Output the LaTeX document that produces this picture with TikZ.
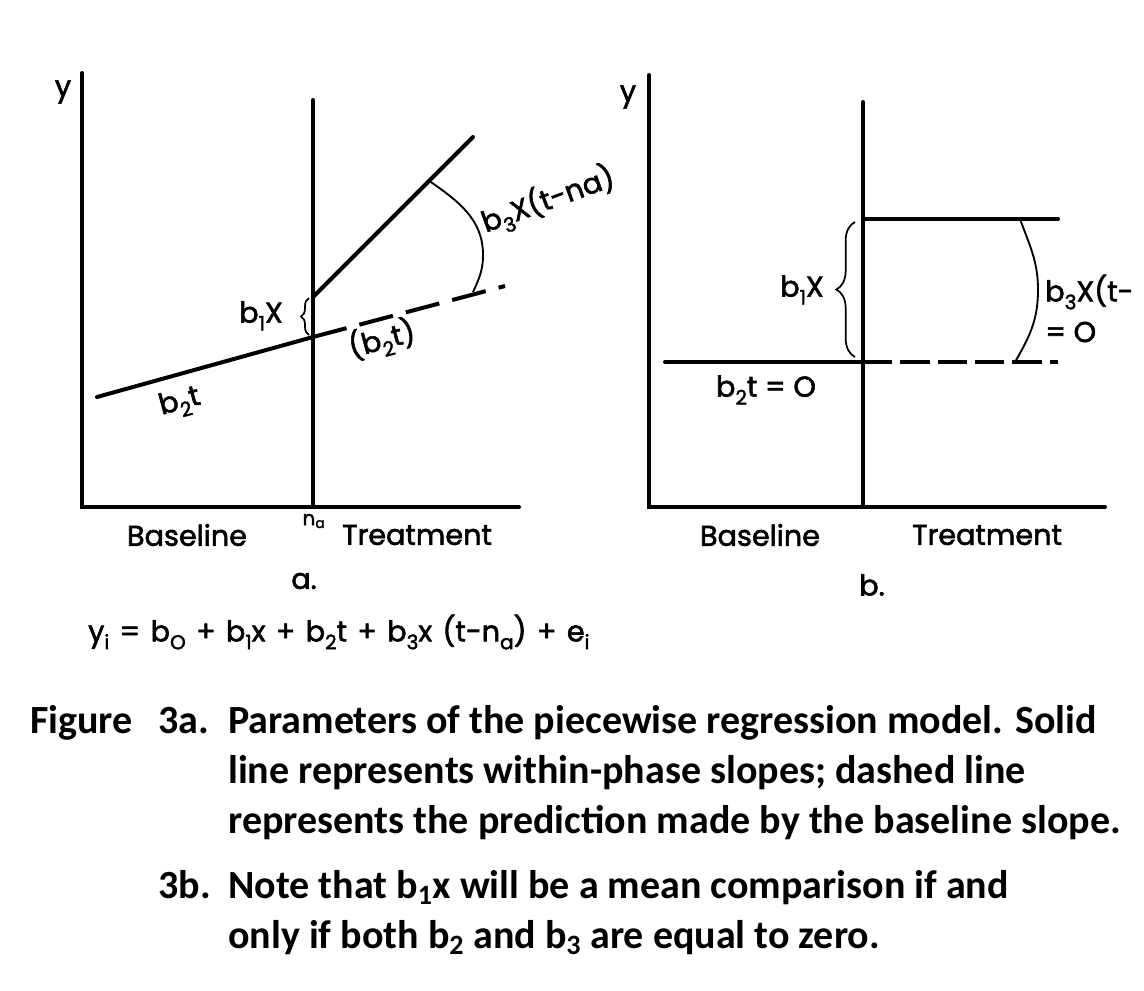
\documentclass[tikz,border=0pt]{standalone}
\usepackage{fontspec}
\newfontfamily\gfont[FakeBold=2]{Poppins}
\newfontfamily\cfont{Carlito}
\usetikzlibrary{decorations.pathreplacing}
\newcommand{\sbx}[1]{\raisebox{-0.5ex}{\fontsize{15}{15}\selectfont #1}}
\newcommand{\wsp}{\hspace{0.36em}}
\begin{document}
\begin{tikzpicture}[x=0.75pt,y=-0.75pt,
  axis/.style={line width=3pt,line cap=round},
  trend/.style={line width=3pt,line cap=round},
  thinarc/.style={line width=1.4pt},
  dasha/.style={line width=3pt,dash pattern=on 26pt off 10pt},
  dashb/.style={line width=3pt,dash pattern=on 22pt off 6pt},
  bracea/.style={decorate,decoration={brace,amplitude=6pt},line width=1.3pt},
  braceb/.style={decorate,decoration={brace,amplitude=14pt},line width=1.3pt},
  gt/.style={font=\gfont\fontsize{21.5}{25}\selectfont,inner sep=0pt},
  gts/.style={font=\gfont\fontsize{15}{17}\selectfont,inner sep=0pt},
  captxt/.style={font=\cfont\bfseries\fontsize{30}{36}\selectfont,inner sep=0pt,anchor=base west}]
\useasboundingbox (0,0) rectangle (1144,990);
% ---------- panel a ----------
\coordinate (ya) at (82,73);
\coordinate (oa) at (82,507);
\coordinate (xa) at (519,507);
\draw[axis] (ya) -- (oa) -- (xa);
\coordinate (natop) at (313,100);
\coordinate (nabot) at (313,507);
\draw[axis] (natop) -- (nabot);
\coordinate (b2s) at (97,397);
\coordinate (b2e) at (313,337);
\coordinate (dashend) at (505,286);
\draw[trend] (b2s) -- (b2e);
\draw[dasha] (b2e) -- (dashend);
\coordinate (ups) at (313,297);
\coordinate (upe) at (473,137);
\draw[trend] (ups) -- (upe);
\coordinate (arcA1) at (428,180);
\coordinate (arcA2) at (483,255);
\coordinate (arcA3) at (473,292);
\draw[thinarc] (arcA1) to[out=-35,in=90] (arcA2) to[out=-90,in=65] (arcA3);
\coordinate (brAb) at (309,335);
\coordinate (brAt) at (309,298);
\draw[bracea] (brAb) -- (brAt);
\node[gt] (yA) at (63,92) {y};
\node[gt] (b1xA) at (261,316) {b\sbx{1}X};
\node[gt,rotate=15] (b2tA) at (180,403) {b\sbx{2}t};
\node[gt,rotate=15] (b2tpA) at (382,340) {(b\sbx{2}t)};
\node[gt,rotate=20] (b3A) at (548,200) {b\sbx{3}X(t-na)};
\node[gt] (baseA) at (187,535) {Baseline};
\node[gts] (naA) at (314,521) {n\textsubscript{a}};
\node[gt] (treatA) at (417,535) {Treatment};
\node[gt] (aA) at (304,581) {a.};
\node[gt,anchor=west] (eq) at (88,632) {y\sbx{i}\wsp=\wsp b\sbx{O}\wsp+\wsp b\sbx{1}x\wsp+\wsp b\sbx{2}t\wsp+\wsp b\sbx{3}x\wsp(t-n\sbx{a})\wsp+\wsp e\sbx{i}};
% ---------- panel b ----------
\coordinate (yb) at (649,75);
\coordinate (ob) at (649,507);
\coordinate (xb) at (1105,507);
\draw[axis] (yb) -- (ob) -- (xb);
\coordinate (nbtop) at (863,102);
\coordinate (nbbot) at (863,507);
\draw[axis] (nbtop) -- (nbbot);
\coordinate (lowL) at (665,362);
\coordinate (lowM) at (863,362);
\coordinate (lowR) at (1058,362);
\draw[trend] (lowL) -- (lowM);
\draw[dashb] (lowM) -- (lowR);
\coordinate (upL) at (863,219);
\coordinate (upR) at (1058,219);
\draw[trend] (upL) -- (upR);
\coordinate (arcB1) at (1020,219);
\coordinate (arcB2) at (1038,290);
\coordinate (arcB3) at (1015,362);
\draw[thinarc] (arcB1) to[out=-70,in=90] (arcB2) to[out=-90,in=60] (arcB3);
\coordinate (brBb) at (855,357);
\coordinate (brBt) at (855,222);
\draw[braceb] (brBb) -- (brBt);
\node[gt] (yB) at (628,97) {y};
\node[gt] (b1xB) at (802,290) {b\sbx{1}X};
\node[gt] (b2tB) at (766,390) {b\sbx{2}t = O};
\node[gt,anchor=west] (b3B) at (1045,292) {b\sbx{3}X(t-};
\node[gt,anchor=west] (eqB) at (1045,332) {= O};
\node[gt] (baseB) at (760,535) {Baseline};
\node[gt] (treatB) at (987,535) {Treatment};
\node[gt] (bB) at (872,585) {b.};
% ---------- caption ----------
\node[captxt] (fig) at (30,733) {Figure};
\node[captxt] (n3a) at (158,733) {3a.};
\node[captxt] (l1) at (228,733) {Parameters of the piecewise regression model. Solid};
\node[captxt] (l2) at (228,783) {line represents within-phase slopes; dashed line};
\node[captxt] (l3) at (228,833) {represents the prediction made by the baseline slope.};
\node[captxt] (n3b) at (158,898) {3b.};
\node[captxt] (l4) at (228,898) {Note that b\textsubscript{1}x will be a mean comparison if and};
\node[captxt] (l5) at (228,948) {only if both b\textsubscript{2} and b\textsubscript{3} are equal to zero.};
\end{tikzpicture}
\end{document}
